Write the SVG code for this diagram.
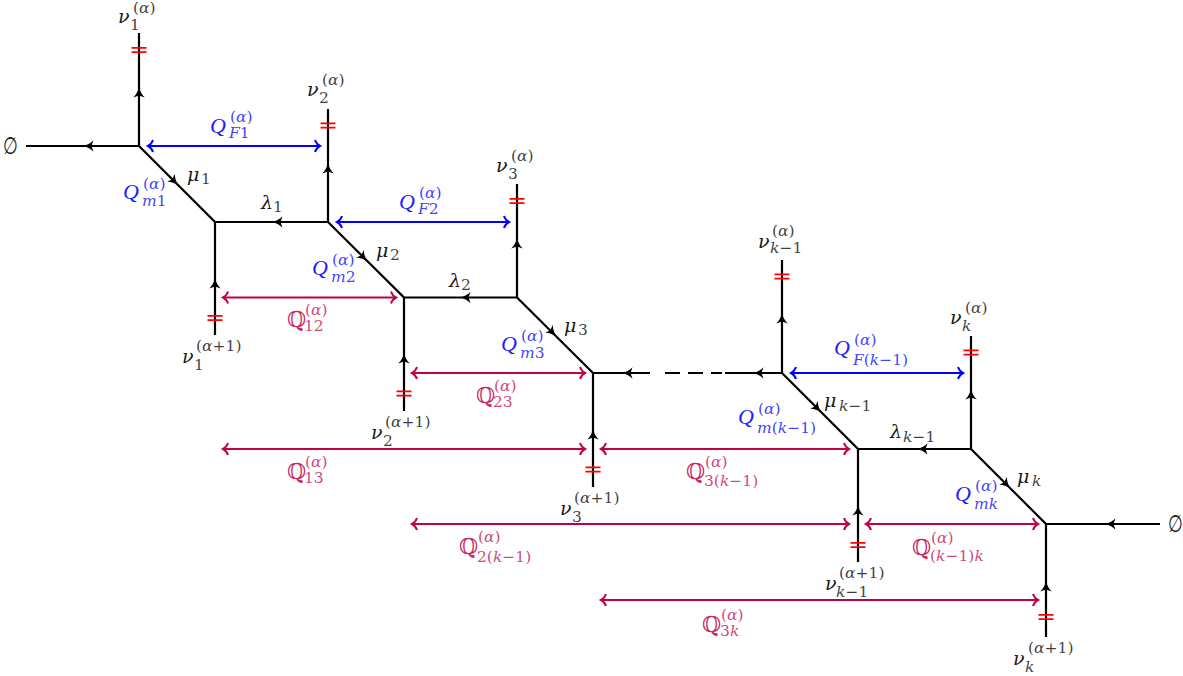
<svg xmlns="http://www.w3.org/2000/svg" width="1183" height="676" viewBox="0 0 1183 676">
<style>
text{font-family:"Liberation Serif","DejaVu Serif",serif;font-size:22px;fill:#1a1a1a}
.q{fill:#2020ff}.c{fill:#c8265f}
.i{font-style:italic}
.g{font-family:"DejaVu Serif",serif;font-style:italic;font-size:19px}
.s{font-family:"DejaVu Serif",serif;font-size:15.500px;fill-opacity:.85}
.w{fill:none;stroke:#000;stroke-width:2.200}
.b{fill:none;stroke:#0000ff;stroke-width:2;marker-start:url(#mb);marker-end:url(#mb)}
.r{fill:none;stroke:#c00048;stroke-width:2;marker-start:url(#mr);marker-end:url(#mr)}
.t{fill:none;stroke:#ff0000;stroke-width:1.800}
.e{font-family:"DejaVu Sans",sans-serif;font-size:17px;font-style:italic}
</style>
<defs>
<path id="ah" d="M5.500,0C2,-1 -2.500,-3.200 -4.500,-5.800L-2.500,0L-4.500,5.800C-2.500,3.200 2,1 5.500,0Z" fill="#000"/>
<path id="tk" d="M-7.500,-2.200H7.500M-7.500,2.200H7.500"/>
<marker id="mb" viewBox="-8 -8 12 16" refX="1" refY="0" markerUnits="userSpaceOnUse" markerWidth="12" markerHeight="16" orient="auto-start-reverse"><path d="M-4,-6C-3,-3 -1,-1 1,0C-1,1 -3,3 -4,6" fill="none" stroke="#0000ff" stroke-width="2"/></marker>
<marker id="mr" viewBox="-8 -8 12 16" refX="1" refY="0" markerUnits="userSpaceOnUse" markerWidth="12" markerHeight="16" orient="auto-start-reverse"><path d="M-4,-6C-3,-3 -1,-1 1,0C-1,1 -3,3 -4,6" fill="none" stroke="#c00048" stroke-width="2"/></marker>
</defs>
<g id="connectors">
<path class="w" d="M26,146H139V33M139,146L215,222V335M215,222H328V109M328,222L404,297.500V411M404,297.500H517V184M517,297.500L593,373V487M593,373H650M725,373H782V260M782,373L858,449V562M858,449H971V336M971,449L1046,524V637M1046,524H1160"/>
<path class="w" d="M665,373H680M688,373H703M711,373H722"/>
<use href="#ah" transform="translate(89,146) rotate(180)"/>
<use href="#ah" transform="translate(139,93) rotate(-90)"/>
<use href="#ah" transform="translate(174,181) rotate(45)"/>
<use href="#ah" transform="translate(278,222) rotate(180)"/>
<use href="#ah" transform="translate(215,284) rotate(-90)"/>
<use href="#ah" transform="translate(328,169) rotate(-90)"/>
<use href="#ah" transform="translate(363,257) rotate(45)"/>
<use href="#ah" transform="translate(466,297.500) rotate(180)"/>
<use href="#ah" transform="translate(404,359) rotate(-90)"/>
<use href="#ah" transform="translate(517,244) rotate(-90)"/>
<use href="#ah" transform="translate(552,332) rotate(45)"/>
<use href="#ah" transform="translate(628,373) rotate(180)"/>
<use href="#ah" transform="translate(593,435) rotate(-90)"/>
<use href="#ah" transform="translate(759,373) rotate(180)"/>
<use href="#ah" transform="translate(782,319) rotate(-90)"/>
<use href="#ah" transform="translate(817,408) rotate(45)"/>
<use href="#ah" transform="translate(923,449) rotate(180)"/>
<use href="#ah" transform="translate(858,511) rotate(-90)"/>
<use href="#ah" transform="translate(971,395) rotate(-90)"/>
<use href="#ah" transform="translate(1006,484) rotate(45)"/>
<use href="#ah" transform="translate(1111,524) rotate(180)"/>
<use href="#ah" transform="translate(1046,587) rotate(-90)"/>
<g class="t">
<use href="#tk" x="139" y="50"/><use href="#tk" x="328" y="125.500"/><use href="#tk" x="517" y="201"/><use href="#tk" x="782" y="276.500"/><use href="#tk" x="971" y="352.500"/>
<use href="#tk" x="215" y="318"/><use href="#tk" x="404" y="393.500"/><use href="#tk" x="593" y="469.500"/><use href="#tk" x="858" y="545"/><use href="#tk" x="1046" y="617"/>
</g>
<path class="b" d="M148,146H320"/><path class="b" d="M337,222H509"/><path class="b" d="M791,373H963"/>
<path class="r" d="M223,297.500H396"/><path class="r" d="M412,373H585"/><path class="r" d="M223,449H585"/><path class="r" d="M601,449H849"/><path class="r" d="M412,524H849"/><path class="r" d="M866,524H1038"/><path class="r" d="M601,600H1038"/>
</g>
<g id="empty-left"><text class="e" transform="translate(3,154) scale(1,1.400)">∅</text></g>
<g id="empty-right"><text class="e" transform="translate(1168,532) scale(1,1.400)">∅</text></g>

<g id="nu1a"><text><tspan class="g" x="118" y="23">ν</tspan><tspan class="s" x="130" y="30">1</tspan><tspan class="s" x="133" y="12.500">(<tspan class="i">α</tspan>)</tspan></text></g>
<g id="nu2a"><text><tspan class="g" x="307" y="96">ν</tspan><tspan class="s" x="319" y="103">2</tspan><tspan class="s" x="322" y="85">(<tspan class="i">α</tspan>)</tspan></text></g>
<g id="nu3a"><text><tspan class="g" x="496" y="172">ν</tspan><tspan class="s" x="508" y="179">3</tspan><tspan class="s" x="511" y="161">(<tspan class="i">α</tspan>)</tspan></text></g>
<g id="nuk1a"><text><tspan class="g" x="758" y="248">ν</tspan><tspan class="s" x="770" y="253"><tspan class="i">k</tspan>−1</tspan><tspan class="s" x="772" y="236">(<tspan class="i">α</tspan>)</tspan></text></g>
<g id="nuka"><text><tspan class="g" x="950" y="324">ν</tspan><tspan class="s i" x="962" y="331">k</tspan><tspan class="s" x="965" y="313">(<tspan class="i">α</tspan>)</tspan></text></g>

<g id="nu1b"><text><tspan class="g" x="182" y="363">ν</tspan><tspan class="s" x="194" y="370">1</tspan><tspan class="s" x="196" y="351">(<tspan class="i">α</tspan>+1)</tspan></text></g>
<g id="nu2b"><text><tspan class="g" x="371" y="439">ν</tspan><tspan class="s" x="383" y="446">2</tspan><tspan class="s" x="385" y="427">(<tspan class="i">α</tspan>+1)</tspan></text></g>
<g id="nu3b"><text><tspan class="g" x="560" y="515">ν</tspan><tspan class="s" x="572" y="522">3</tspan><tspan class="s" x="574" y="503">(<tspan class="i">α</tspan>+1)</tspan></text></g>
<g id="nuk1b"><text><tspan class="g" x="825" y="590">ν</tspan><tspan class="s" x="836" y="597"><tspan class="i">k</tspan>−1</tspan><tspan class="s" x="839" y="578">(<tspan class="i">α</tspan>+1)</tspan></text></g>
<g id="nukb"><text><tspan class="g" x="1013" y="665">ν</tspan><tspan class="s i" x="1025" y="672">k</tspan><tspan class="s" x="1028" y="653">(<tspan class="i">α</tspan>+1)</tspan></text></g>

<g id="mu1"><text><tspan class="g" x="187" y="181">μ</tspan><tspan class="s" x="201" y="184">1</tspan></text></g>
<g id="mu2"><text><tspan class="g" x="376" y="257">μ</tspan><tspan class="s" x="390" y="260">2</tspan></text></g>
<g id="mu3"><text><tspan class="g" x="564" y="332">μ</tspan><tspan class="s" x="578" y="335">3</tspan></text></g>
<g id="muk1"><text><tspan class="g" x="824" y="407">μ</tspan><tspan class="s" x="839" y="411"><tspan class="i">k</tspan>−1</tspan></text></g>
<g id="muk"><text><tspan class="g" x="1017" y="483">μ</tspan><tspan class="s i" x="1032" y="486">k</tspan></text></g>
<g id="la1"><text><tspan class="g" x="261" y="209">λ</tspan><tspan class="s" x="273" y="212">1</tspan></text></g>
<g id="la2"><text><tspan class="g" x="449" y="287">λ</tspan><tspan class="s" x="461" y="290">2</tspan></text></g>
<g id="lak1"><text><tspan class="g" x="890" y="438">λ</tspan><tspan class="s" x="903" y="442"><tspan class="i">k</tspan>−1</tspan></text></g>

<g id="QF1"><text class="q"><tspan class="i" x="210" y="133">Q</tspan><tspan class="s" x="229" y="138"><tspan class="i">F</tspan>1</tspan><tspan class="s" x="230" y="122">(<tspan class="i">α</tspan>)</tspan></text></g>
<g id="QF2"><text class="q"><tspan class="i" x="399" y="209">Q</tspan><tspan class="s" x="418" y="214"><tspan class="i">F</tspan>2</tspan><tspan class="s" x="419" y="198">(<tspan class="i">α</tspan>)</tspan></text></g>
<g id="QFk"><text class="q"><tspan class="i" x="834" y="355">Q</tspan><tspan class="s" x="853" y="365"><tspan class="i">F</tspan>(<tspan class="i">k</tspan>−1)</tspan><tspan class="s" x="854" y="345">(<tspan class="i">α</tspan>)</tspan></text></g>
<g id="Qm1"><text class="q"><tspan class="i" x="123" y="199">Q</tspan><tspan class="s" x="142" y="206"><tspan class="i">m</tspan>1</tspan><tspan class="s" x="143" y="189">(<tspan class="i">α</tspan>)</tspan></text></g>
<g id="Qm2"><text class="q"><tspan class="i" x="312" y="275">Q</tspan><tspan class="s" x="331" y="282"><tspan class="i">m</tspan>2</tspan><tspan class="s" x="332" y="265">(<tspan class="i">α</tspan>)</tspan></text></g>
<g id="Qm3"><text class="q"><tspan class="i" x="501" y="351">Q</tspan><tspan class="s" x="520" y="358"><tspan class="i">m</tspan>3</tspan><tspan class="s" x="521" y="341">(<tspan class="i">α</tspan>)</tspan></text></g>
<g id="Qmk1"><text class="q"><tspan class="i" x="738" y="424">Q</tspan><tspan class="s" x="757" y="433"><tspan class="i">m</tspan>(<tspan class="i">k</tspan>−1)</tspan><tspan class="s" x="758" y="414">(<tspan class="i">α</tspan>)</tspan></text></g>
<g id="Qmk"><text class="q"><tspan class="i" x="955" y="501">Q</tspan><tspan class="s i" x="974" y="509">mk</tspan><tspan class="s" x="975" y="491">(<tspan class="i">α</tspan>)</tspan></text></g>

<g id="P12"><text class="c"><tspan x="287" y="327">ℚ</tspan><tspan class="s" x="304" y="331">12</tspan><tspan class="s" x="305" y="315">(<tspan class="i">α</tspan>)</tspan></text></g>
<g id="P23"><text class="c"><tspan x="476" y="403">ℚ</tspan><tspan class="s" x="493" y="407">23</tspan><tspan class="s" x="494" y="391">(<tspan class="i">α</tspan>)</tspan></text></g>
<g id="P13"><text class="c"><tspan x="287" y="479">ℚ</tspan><tspan class="s" x="304" y="483">13</tspan><tspan class="s" x="305" y="467">(<tspan class="i">α</tspan>)</tspan></text></g>
<g id="P3k1"><text class="c"><tspan x="686" y="479">ℚ</tspan><tspan class="s" x="704" y="486">3(<tspan class="i">k</tspan>−1)</tspan><tspan class="s" x="705" y="467">(<tspan class="i">α</tspan>)</tspan></text></g>
<g id="P2k1"><text class="c"><tspan x="459" y="554">ℚ</tspan><tspan class="s" x="477" y="562">2(<tspan class="i">k</tspan>−1)</tspan><tspan class="s" x="478" y="542">(<tspan class="i">α</tspan>)</tspan></text></g>
<g id="Pk1k"><text class="c"><tspan x="912" y="555">ℚ</tspan><tspan class="s" x="930" y="561">(<tspan class="i">k</tspan>−1)<tspan class="i">k</tspan></tspan><tspan class="s" x="931" y="543">(<tspan class="i">α</tspan>)</tspan></text></g>
<g id="P3k"><text class="c"><tspan x="702" y="632">ℚ</tspan><tspan class="s" x="720" y="636">3<tspan class="i">k</tspan></tspan><tspan class="s" x="721" y="620">(<tspan class="i">α</tspan>)</tspan></text></g>
</svg>
